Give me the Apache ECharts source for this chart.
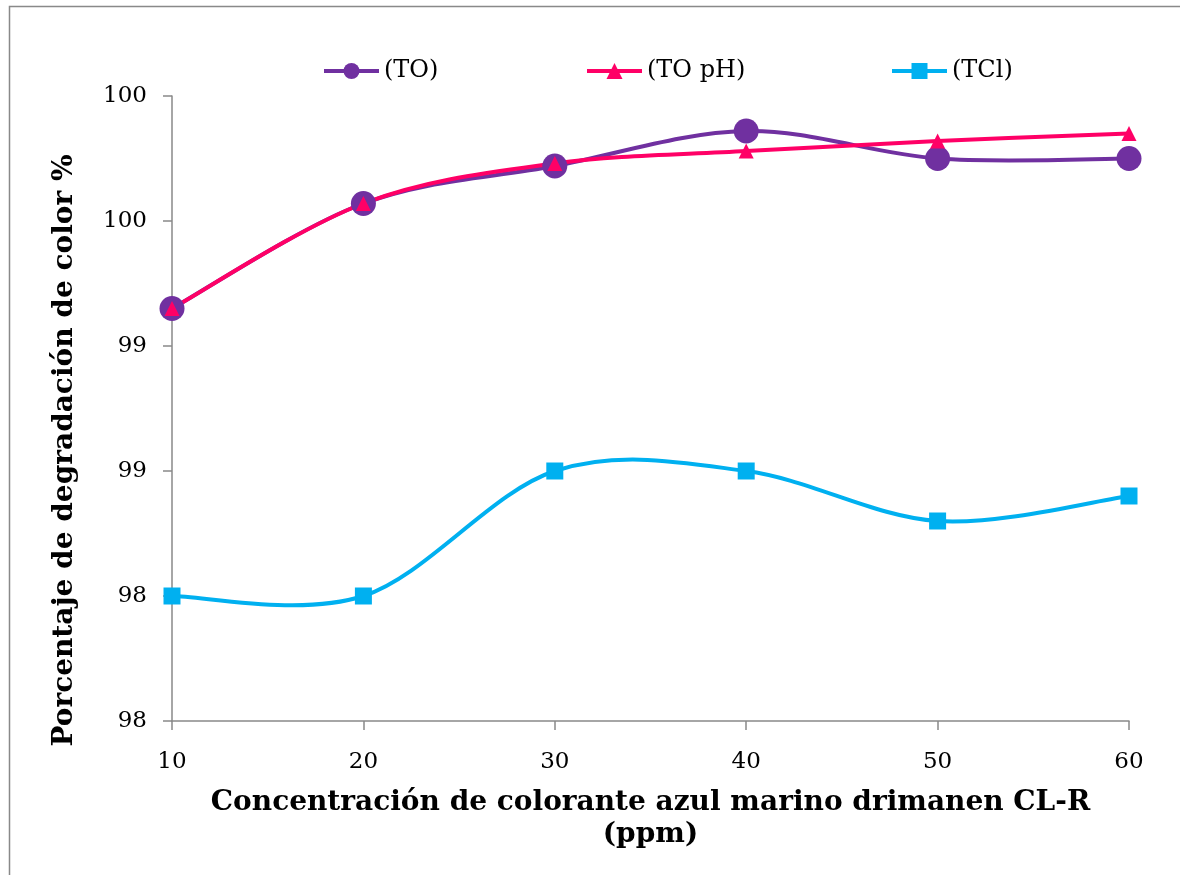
<!DOCTYPE html>
<html>
<head>
<meta charset="utf-8">
<title>Porcentaje de degradación de color</title>
<script src="https://cdn.jsdelivr.net/npm/echarts@6/dist/echarts.min.js"></script>
<style>
  html, body { margin: 0; padding: 0; background: #fff; }
  #chart { width: 1180px; height: 875px; }
</style>
</head>
<body>
<div id="chart"></div>
<script>
// Concentración de colorante (ppm)
const categories = ['10', '20', '30', '40', '50', '60'];

// Porcentaje de degradación de color (%) por tratamiento
const seriesTO   = [99.15, 99.57, 99.72, 99.86, 99.75, 99.75];
const seriesTOpH = [99.15, 99.57, 99.73, 99.78, 99.82, 99.85];
const seriesTCl  = [98.00, 98.00, 98.50, 98.50, 98.30, 98.40];

// Y-axis ticks and their (rounded) labels
const yTicks      = [97.5, 98, 98.5, 99, 99.5, 100];
const yTickLabels = ['98', '98', '99', '99', '100', '100'];

const legendNames = ['(TO)', '(TO pH)', '(TCl)'];

const axisGray = '#898989';
const labelFont = 'DejaVu Serif';
const colors = ['#7030A0', '#FF0066', '#00B0F0'];

const chart = echarts.init(document.getElementById('chart'), null, { renderer: 'canvas' });

// Smoothed curve through the data points: cubic Bézier segments whose
// control points follow the neighbouring points (1/6 of the chord).
function smoothCurve(values, color) {
  return {
    type: 'custom',
    data: values.map(function (v, j) { return [j, v]; }),
    encode: { x: 0, y: 1 },
    silent: true,
    renderItem: function (params, api) {
      if (params.dataIndex !== 0) return null;
      const p = values.map(function (v, j) { return api.coord([j, v]); });
      const n = p.length;
      let d = 'M' + p[0][0] + ' ' + p[0][1];
      for (let i = 0; i < n - 1; i++) {
        const a = p[Math.max(i - 1, 0)], b = p[i], c = p[i + 1], e = p[Math.min(i + 2, n - 1)];
        const c1x = b[0] + (c[0] - a[0]) / 6, c1y = b[1] + (c[1] - a[1]) / 6;
        const c2x = c[0] - (e[0] - b[0]) / 6, c2y = c[1] - (e[1] - b[1]) / 6;
        d += ' C' + c1x + ' ' + c1y + ' ' + c2x + ' ' + c2y + ' ' + c[0] + ' ' + c[1];
      }
      return {
        type: 'path',
        shape: { pathData: d },
        style: { fill: 'none', stroke: color, lineWidth: 4, lineJoin: 'round', lineCap: 'round' }
      };
    }
  };
}

// Markers of each series (the curve itself is drawn by smoothCurve)
function markerSeries(name, data, color, symbol, size) {
  return {
    name: name,
    type: 'line',
    data: data,
    symbol: symbol,
    symbolSize: size,
    lineStyle: { color: color, width: 4, opacity: 0 },
    itemStyle: { color: color },
    emphasis: { disabled: true }
  };
}

const legendBase = {
  top: 59,
  padding: 0,
  itemWidth: 55,
  itemHeight: 20,
  itemGap: 4,
  lineStyle: { width: 4, opacity: 1 },
  textStyle: { fontFamily: labelFont, fontSize: 24, color: '#000' },
  selectedMode: false
};

chart.setOption({
  animation: false,
  backgroundColor: '#fff',
  graphic: [{
    type: 'rect',
    left: 7, top: 4,
    shape: { width: 1200, height: 900 },
    style: { fill: 'none', stroke: axisGray, lineWidth: 1.5 },
    silent: true
  }],
  legend: [
    Object.assign({}, legendBase, { left: 322, data: [legendNames[0]] }),
    Object.assign({}, legendBase, { left: 585, data: [legendNames[1]] }),
    Object.assign({}, legendBase, { left: 890, data: [legendNames[2]] })
  ],
  grid: { left: 172, right: 51, top: 96, bottom: 154 },
  xAxis: {
    type: 'category',
    data: categories,
    boundaryGap: false,
    name: 'Concentración de colorante azul marino drimanen CL-R\n(ppm)',
    nameLocation: 'middle',
    nameGap: 66,
    nameTextStyle: { fontFamily: labelFont, fontWeight: 'bold', fontSize: 28, lineHeight: 32, color: '#000' },
    axisLine: { show: true, lineStyle: { color: axisGray, width: 1.5 } },
    axisTick: { show: true, inside: false, length: 9, alignWithLabel: true, lineStyle: { color: axisGray, width: 1.5 } },
    axisLabel: { fontFamily: labelFont, fontSize: 23, color: '#000', margin: 30, interval: 0 },
    splitLine: { show: false }
  },
  yAxis: {
    type: 'value',
    min: yTicks[0],
    max: yTicks[yTicks.length - 1],
    interval: 0.5,
    name: 'Porcentaje de degradación de color %',
    nameLocation: 'middle',
    nameGap: 93,
    nameTextStyle: { fontFamily: labelFont, fontWeight: 'bold', fontSize: 28, color: '#000', padding: [0, 84, 0, 0] },
    axisLine: { show: true, lineStyle: { color: axisGray, width: 1.5 } },
    axisTick: { show: true, inside: false, length: 9, lineStyle: { color: axisGray, width: 1.5 } },
    axisLabel: {
      fontFamily: labelFont, fontSize: 23, color: '#000', margin: 25,
      formatter: function (v) {
        const i = yTicks.findIndex(function (t) { return Math.abs(t - v) < 1e-9; });
        return i >= 0 ? yTickLabels[i] : '';
      }
    },
    splitLine: { show: false }
  },
  series: [
    smoothCurve(seriesTO, colors[0]),
    markerSeries(legendNames[0], seriesTO, colors[0], 'circle', 25),
    smoothCurve(seriesTOpH, colors[1]),
    markerSeries(legendNames[1], seriesTOpH, colors[1], 'triangle', 15),
    smoothCurve(seriesTCl, colors[2]),
    markerSeries(legendNames[2], seriesTCl, colors[2], 'rect', 17)
  ]
});
</script>
</body>
</html>
